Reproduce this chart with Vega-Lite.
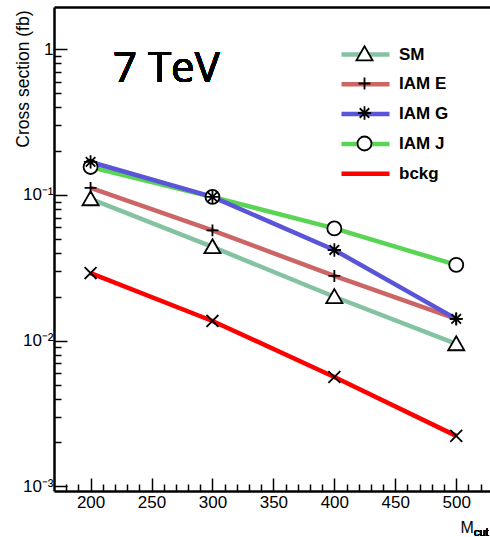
{
  "$schema": "https://vega.github.io/schema/vega-lite/v6.json",
  "width": 436,
  "height": 484,
  "autosize": {"type": "none"},
  "padding": {"left": 54, "top": 7, "right": 0, "bottom": 46},
  "background": "white",
  "config": {"view": {"stroke": null}, "font": "Liberation Sans", "axis": {"grid": false}},
  "data": {"values": [
    {"m": 200, "xs": 0.0939, "series": "SM"},
    {"m": 300, "xs": 0.0440, "series": "SM"},
    {"m": 400, "xs": 0.0200, "series": "SM"},
    {"m": 500, "xs": 0.00949, "series": "SM"},
    {"m": 200, "xs": 0.1117, "series": "IAM E"},
    {"m": 300, "xs": 0.0571, "series": "IAM E"},
    {"m": 400, "xs": 0.0278, "series": "IAM E"},
    {"m": 500, "xs": 0.0141, "series": "IAM E"},
    {"m": 200, "xs": 0.1556, "series": "IAM J"},
    {"m": 300, "xs": 0.0969, "series": "IAM J"},
    {"m": 400, "xs": 0.0589, "series": "IAM J"},
    {"m": 500, "xs": 0.0331, "series": "IAM J"},
    {"m": 200, "xs": 0.1684, "series": "IAM G"},
    {"m": 300, "xs": 0.0969, "series": "IAM G"},
    {"m": 400, "xs": 0.0419, "series": "IAM G"},
    {"m": 500, "xs": 0.0141, "series": "IAM G"},
    {"m": 200, "xs": 0.0291, "series": "bckg"},
    {"m": 300, "xs": 0.01365, "series": "bckg"},
    {"m": 400, "xs": 0.00563, "series": "bckg"},
    {"m": 500, "xs": 0.00222, "series": "bckg"}
  ]},
  "resolve": {"axis": {"x": "independent"}},
  "layer": [
    {
      "mark": {"type": "line", "strokeWidth": 4.5},
      "encoding": {
        "x": {
          "field": "m", "type": "quantitative",
          "scale": {"domain": [170, 527.7], "nice": false, "zero": false},
          "axis": {
            "orient": "bottom",
            "values": [180,190,200,210,220,230,240,250,260,270,280,290,300,310,320,330,340,350,360,370,380,390,400,410,420,430,440,450,460,470,480,490,500,510,520],
            "labelExpr": "datum.value % 50 === 0 ? datum.label : ''",
            "tickSize": {"condition": {"test": "datum.value % 50 === 0", "value": -13}, "value": -7},
            "tickWidth": 1.5, "tickColor": "black",
            "domainColor": "black", "domainWidth": 2.5,
            "labelFontSize": 17, "labelColor": "black", "labelPadding": 16,
            "labelOverlap": false, "labelFlush": false,
            "title": "M", "titleFontSize": 16, "titleFontWeight": "normal", "titleColor": "black",
            "titleAnchor": "start", "titleX": 406, "titleY": 41, "titleAlign": "left", "titleBaseline": "alphabetic"
          }
        },
        "y": {
          "field": "xs", "type": "quantitative",
          "scale": {"type": "log", "domain": [0.000929, 1.95], "nice": false},
          "axis": {
            "values": [0.001,0.002,0.003,0.004,0.005,0.006,0.007,0.008,0.009,0.01,0.02,0.03,0.04,0.05,0.06,0.07,0.08,0.09,0.1,0.2,0.3,0.4,0.5,0.6,0.7,0.8,0.9,1],
            "labelExpr": "datum.value === 1 ? '1' : datum.value === 0.1 ? '10⁻¹' : datum.value === 0.01 ? '10⁻²' : datum.value === 0.001 ? '10⁻³' : ''",
            "tickSize": {"condition": {"test": "datum.value === 1 || datum.value === 0.1 || datum.value === 0.01 || datum.value === 0.001", "value": -13}, "value": -7},
            "tickWidth": 1.5, "tickColor": "black",
            "domainColor": "black", "domainWidth": 2.5,
            "labelFontSize": 17, "labelColor": "black", "labelPadding": 14,
            "labelOverlap": false, "labelFlush": false,
            "title": "Cross section (fb)", "titleFontSize": 17.5, "titleFontWeight": "normal", "titleColor": "black",
            "titleAnchor": "end", "titleAngle": -90, "titleX": -31, "titleY": 3, "titleAlign": "right", "titleBaseline": "middle"
          }
        },
        "color": {
          "field": "series", "type": "nominal",
          "scale": {"domain": ["SM", "IAM E", "IAM G", "IAM J", "bckg"], "range": ["#85c2a3", "#cc6666", "#5954d8", "#59d454", "#ff0000"]},
          "legend": {
            "orient": "none", "legendX": 302, "legendY": 38, "title": null, "padding": 0,
            "symbolType": "M-3.43,0H3.43", "symbolSize": 196, "symbolStrokeWidth": 4.5,
            "labelFontSize": 17, "labelFont": "Liberation Sans", "labelFontWeight": "bold", "labelColor": "black", "labelOffset": 24, "rowPadding": 10.8
          }
        }
      }
    },
    {
      "mark": {"type": "point", "filled": true, "fill": "white", "strokeWidth": 1.8, "size": 196, "opacity": 1},
      "encoding": {
        "x": {"field": "m", "type": "quantitative", "axis": {"orient": "top", "labels": false, "ticks": false, "domain": true, "domainColor": "black", "domainWidth": 2.5, "title": null}},
        "y": {"field": "xs", "type": "quantitative"},
        "stroke": {
          "field": "series", "type": "nominal",
          "scale": {"domain": ["bckg", "SM", "IAM E", "IAM G", "IAM J"], "range": ["black", "black", "black", "black", "black"]},
          "legend": {
            "orient": "none", "legendX": 302, "legendY": 38.5, "title": null, "padding": 0,
            "values": ["SM", "IAM E", "IAM G", "IAM J"],
            "symbolSize": 196, "symbolStrokeWidth": 1.8, "symbolFillColor": "white", "symbolOpacity": 1,
            "labelExpr": "''", "labelFontSize": 17, "labelOffset": 24, "rowPadding": 8.5
          }
        },
        "shape": {
          "field": "series", "type": "nominal",
          "scale": {"domain": ["bckg", "SM", "IAM E", "IAM G", "IAM J"], "range": [
            "M-0.85,-0.85L0.85,0.85M-0.85,0.85L0.85,-0.85",
            "M0,-1.1L1.15,0.9L-1.15,0.9Z",
            "M-0.85,0H0.85M0,-0.85V0.85",
            "M-0.95,0H0.95M0,-0.95V0.95M-0.68,-0.68L0.68,0.68M-0.68,0.68L0.68,-0.68",
            "circle"
          ]},
          "legend": {
            "orient": "none", "legendX": 302, "legendY": 38.5, "title": null, "padding": 0,
            "values": ["SM", "IAM E", "IAM G", "IAM J"],
            "symbolSize": 196, "symbolStrokeWidth": 1.8, "symbolFillColor": "white", "symbolOpacity": 1,
            "labelExpr": "''", "labelFontSize": 17, "labelOffset": 24, "rowPadding": 8.5
          }
        }
      }
    },
    {
      "mark": {"type": "text", "text": "7 TeV", "font": "Open Sans", "fontSize": 42, "align": "left", "baseline": "alphabetic", "color": "black"},
      "encoding": {
        "x": {"datum": 218.4, "type": "quantitative", "axis": null},
        "y": {"datum": 0.5965, "type": "quantitative"}
      }
    },
    {
      "mark": {"type": "text", "text": "cut", "fontSize": 11, "align": "left", "baseline": "alphabetic", "color": "black"},
      "encoding": {
        "x": {"datum": 514.5, "type": "quantitative", "axis": null},
        "y": {"datum": 0.000457, "type": "quantitative"}
      }
    }
  ]
}
